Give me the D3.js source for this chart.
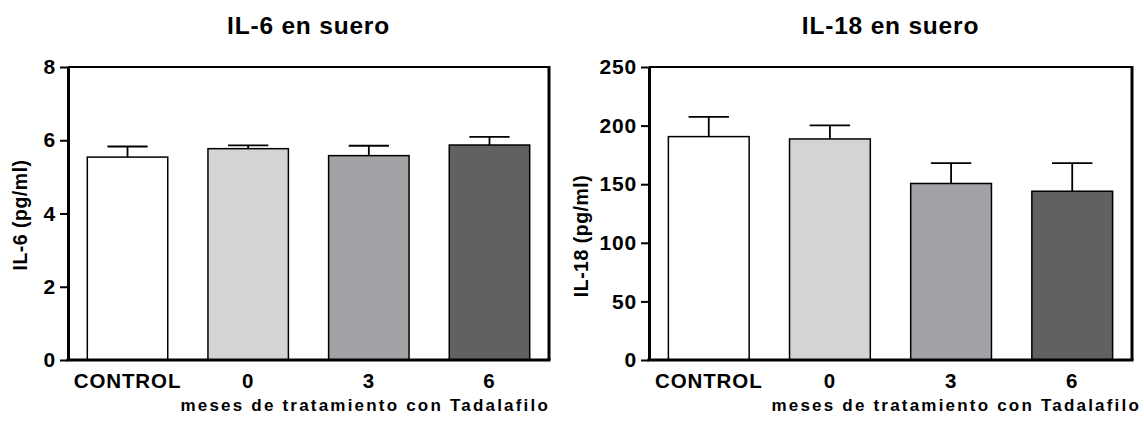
<!DOCTYPE html>
<html>
<head>
<meta charset="utf-8">
<script src="https://cdn.jsdelivr.net/npm/d3@7"></script>
<style>
    body { margin: 0; background: #fff; }
    svg text { font-family: "Liberation Sans", Arial, sans-serif; font-weight: bold; fill: #000; }
</style>
</head>
<body>
<div id="chart"></div>
<script>
// Data
const categories = ['CONTROL', '0', '3', '6'];
const barFills = ['#ffffff', '#d4d4d4', '#a3a3a7', '#616161'];

const il6Means = [5.54, 5.77, 5.58, 5.87];
const il6Sem = [0.29, 0.09, 0.27, 0.22];
const il6Ticks = [0, 2, 4, 6, 8];

const il18Means = [190.6, 188.6, 150.6, 144.0];
const il18Sem = [16.8, 11.6, 17.4, 24.0];
const il18Ticks = [0, 50, 100, 150, 200, 250];

const xLabel = 'meses de tratamiento con Tadalafilo';

const svg = d3.select('#chart')
    .append('svg')
    .attr('width', 1144)
    .attr('height', 423);

function drawPanel(opts) {
    const { left, right, top, bottom } = opts;

    const x = d3.scaleBand()
        .domain(categories)
        .range([left, right])
        .paddingInner(1 / 3)
        .paddingOuter(0.16);

    const y = d3.scaleLinear()
        .domain([0, d3.max(opts.ticks)])
        .range([bottom, top]);

    const g = svg.append('g');

    // Title
    g.append('text')
        .attr('x', (left + right) / 2)
        .attr('y', 34)
        .attr('text-anchor', 'middle')
        .style('font-size', '24.5px')
        .style('letter-spacing', '0.8px')
        .text(opts.title);

    // Bars
    const rows = categories.map((c, i) => ({ cat: c, mean: opts.means[i], sem: opts.sem[i], fill: barFills[i] }));

    g.selectAll('.bar')
        .data(rows)
        .join('rect')
        .attr('class', 'bar')
        .attr('x', d => x(d.cat))
        .attr('y', d => y(d.mean))
        .attr('width', x.bandwidth())
        .attr('height', d => y(0) - y(d.mean))
        .attr('fill', d => d.fill)
        .attr('stroke', '#000')
        .attr('stroke-width', 1.5);

    // Error bars (upper half only)
    const err = g.selectAll('.err')
        .data(rows)
        .join('g')
        .attr('class', 'err')
        .attr('stroke', '#000')
        .attr('stroke-width', 1.8);

    err.append('line')
        .attr('x1', d => x(d.cat) + x.bandwidth() / 2)
        .attr('x2', d => x(d.cat) + x.bandwidth() / 2)
        .attr('y1', d => y(d.mean))
        .attr('y2', d => y(d.mean + d.sem));

    err.append('line')
        .attr('x1', d => x(d.cat) + x.bandwidth() / 4)
        .attr('x2', d => x(d.cat) + x.bandwidth() * 3 / 4)
        .attr('y1', d => y(d.mean + d.sem))
        .attr('y2', d => y(d.mean + d.sem));

    // Frame: top and right
    g.append('line')
        .attr('x1', left).attr('x2', right)
        .attr('y1', top).attr('y2', top)
        .attr('stroke', '#000').attr('stroke-width', 2);
    g.append('line')
        .attr('x1', right).attr('x2', right)
        .attr('y1', top - 1).attr('y2', bottom)
        .attr('stroke', '#000').attr('stroke-width', 3);

    // Y axis
    const yAxis = g.append('g')
        .attr('transform', `translate(${left},0)`)
        .call(d3.axisLeft(y).tickValues(opts.ticks).tickSize(8).tickSizeOuter(0).tickPadding(4));
    yAxis.select('.domain').attr('stroke-width', 3);
    yAxis.selectAll('.tick line').attr('stroke-width', 2);
    yAxis.attr('font-family', null).attr('font-size', null);
    yAxis.selectAll('.tick text')
        .style('font-size', '21px')
        .style('letter-spacing', '0.8px');

    // X axis (labels only, plus baseline)
    const xAxis = g.append('g')
        .attr('transform', `translate(0,${bottom})`)
        .call(d3.axisBottom(x).tickSize(0).tickPadding(13));
    xAxis.select('.domain').remove();
    xAxis.attr('font-family', null).attr('font-size', null);
    xAxis.selectAll('.tick text')
        .style('font-size', '20.5px')
        .style('letter-spacing', '0.9px');

    g.append('line')
        .attr('x1', left - 1.5).attr('x2', right + 1.5)
        .attr('y1', bottom).attr('y2', bottom)
        .attr('stroke', '#000').attr('stroke-width', 3);

    // Axis titles
    g.append('text')
        .attr('transform', `translate(${opts.yLabelX},${opts.yLabelY}) rotate(-90)`)
        .attr('text-anchor', 'middle')
        .style('font-size', '19.5px')
        .style('letter-spacing', '0.5px')
        .text(opts.yLabel);

    g.append('text')
        .attr('x', opts.xLabelEnd)
        .attr('y', 411)
        .attr('text-anchor', 'end')
        .style('font-size', '17px')
        .style('letter-spacing', '2.2px')
        .text(xLabel);
}

drawPanel({
    title: 'IL-6 en suero',
    yLabel: 'IL-6 (pg/ml)',
    means: il6Means,
    sem: il6Sem,
    ticks: il6Ticks,
    left: 68, right: 549, top: 67, bottom: 360,
    yLabelX: 27, yLabelY: 215,
    xLabelEnd: 550
});

drawPanel({
    title: 'IL-18 en suero',
    yLabel: 'IL-18 (pg/ml)',
    means: il18Means,
    sem: il18Sem,
    ticks: il18Ticks,
    left: 649, right: 1132, top: 67, bottom: 360,
    yLabelX: 588, yLabelY: 236,
    xLabelEnd: 1141
});
</script>
</body>
</html>
